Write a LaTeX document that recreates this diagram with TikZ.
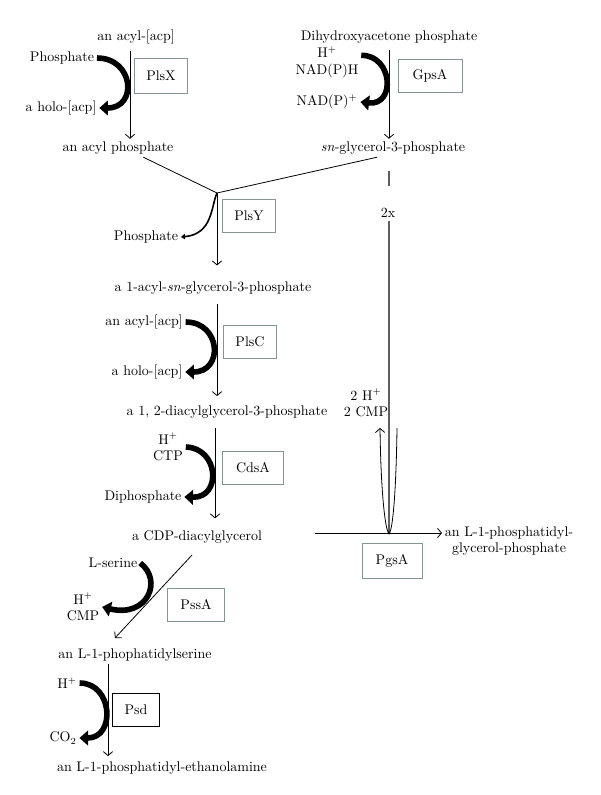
\documentclass[tikz,border=0pt]{standalone}
\usetikzlibrary{arrows.meta}
\definecolor{boxgray}{RGB}{135,148,148}
\definecolor{linegray}{RGB}{95,95,95}
\tikzset{
  met/.style={inner sep=2pt, font=\fontsize{10.5}{12.5}\selectfont},
  enz/.style={draw=boxgray, line width=0.7pt, inner sep=0pt,
    minimum height=25pt, font=\fontsize{10.5}{12.5}\selectfont},
  rxn/.style={line width=0.6pt, -{Straight Barb[length=3pt,width=7pt]}},
  cof/.style={line width=4.2pt, -{Triangle[length=6.5pt,width=11pt]}},
  thin cof/.style={line width=1.2pt, -{Triangle[length=3pt,width=4pt]}},
}
\begin{document}
\begin{tikzpicture}[x=0.75pt, y=-0.75pt]
  \useasboundingbox (0,0) rectangle (600,795);
  % metabolites
  \node[met] (acylacp) at (136,37) {an acyl-[acp]};
  \node[met] (dhap) at (389,37) {Dihydroxyacetone phosphate};
  \node[met] (acylp) at (118,148) {an acyl phosphate};
  \node[met] (glyc3p) at (393,148) {\textit{sn}-glycerol-3-phosphate};
  \node[met] (acylg3p) at (213,288) {a 1-acyl-\textit{sn}-glycerol-3-phosphate};
  \node[met] (dag3p) at (227,412) {a 1, 2-diacylglycerol-3-phosphate};
  \node[met] (cdpdag) at (197,537) {a CDP-diacylglycerol};
  \node[met, align=center, anchor=west] (pgp) at (442,541)
    {an L-1-phosphatidyl-\\glycerol-phosphate};
  \node[met] (ps) at (135,655) {an L-1-phophatidylserine};
  \node[met] (pe) at (162,768) {an L-1-phosphatidyl-ethanolamine};
  % side compounds
  \node[met] (pi1) at (62,58) {Phosphate};
  \node[met] (holo1) at (61,108) {a holo-[acp]};
  \node[met, align=center] (nadph) at (327,62) {H$^+$\\NAD(P)H};
  \node[met] (nadp) at (327,102) {NAD(P)$^+$};
  \node[met] (pi2) at (146,237) {Phosphate};
  \node[met] (acylacp2) at (144,322) {an acyl-[acp]};
  \node[met] (holo2) at (147,372) {a holo-[acp]};
  \node[met, align=center] (ctp) at (168,447) {H$^+$\\CTP};
  \node[met] (ppi) at (143,497) {Diphosphate};
  \node[met, align=center] (cmp2) at (366,403) {2 H$^+$\\2 CMP};
  \node[met] (ser) at (113,563) {L-serine};
  \node[met, align=center] (cmp1) at (83,607) {H$^+$\\CMP};
  \node[met] (hps) at (67,683) {H$^+$};
  \node[met] (co2) at (63,738) {CO$_2$};
  \node[met] (twox) at (388,213) {2x};
  % enzymes
  \node[enz, minimum width=40pt, minimum height=26pt] (plsx) at (161,76) {PlsX};
  \node[enz, minimum width=48pt] (gpsa) at (430,76) {GpsA};
  \node[enz, minimum width=40pt] (plsy) at (249,216) {PlsY};
  \node[enz, minimum width=40pt] (plsc) at (250,342) {PlsC};
  \node[enz, minimum width=46pt] (cdsa) at (253,468) {CdsA};
  \node[enz, minimum width=45pt, minimum height=26pt] (pgsa) at (392,561) {PgsA};
  \node[enz, minimum width=43pt] (pssa) at (196,605) {PssA};
  \node[enz, draw=black, minimum width=35pt] (psd) at (136,710) {Psd};
  % points on the main lines
  \coordinate (colA) at (130,0);
  \coordinate (colB) at (389,0);
  \coordinate (colC) at (215,0);
  \coordinate (colD) at (108,0);
  \coordinate (plsyjoin) at (217,193);
  \coordinate (g1) at (389,171);
  \coordinate (g2) at (389,186);
  \coordinate (g3) at (389,221);
  \coordinate (pgjoin) at (389,533);
  \coordinate (pgstart) at (315,533);
  \coordinate (ustart) at (397,428);
  \coordinate (uend) at (380,428);
  \coordinate (pstop) at (192,555);
  \coordinate (psend) at (115,638);
  % main reactions
  \draw[rxn, shorten <=3pt] (acylacp.south -| colA) -- (acylp.north -| colA);
  \draw[rxn, shorten <=3pt] (dhap.south -| colB) -- (glyc3p.north -| colB);
  \draw[line width=0.6pt] (acylp.-20) -- (plsyjoin) -- (glyc3p.-150);
  \draw[rxn, shorten >=10pt] (plsyjoin) -- (acylg3p.north -| plsyjoin);
  \draw[rxn, shorten <=5pt, shorten >=5pt] (acylg3p.south -| plsyjoin) -- (dag3p.north -| plsyjoin);
  \draw[rxn, shorten <=5pt, shorten >=7pt] (dag3p.south -| colC) -- (cdpdag.north -| colC);
  \draw[rxn] (pstop) -- (psend);
  \draw[rxn, shorten >=2pt] (ps.south -| colD) -- (pe.north -| colD);
  \draw[rxn] (pgstart) -- (pgp.west |- pgstart);
  \draw[line width=0.9pt, linegray] (g1) -- (g2);
  \draw[line width=0.9pt, linegray] (g3) -- (pgjoin);
  \fill (pgjoin) circle (1.6);
  \draw[rxn] (ustart) .. controls (396,500) and (392,533) .. (pgjoin)
    .. controls (386,533) and (381,500) .. (uend);
  % side reactions
  \draw[cof] (pi1.east) .. controls (134,58) and (138,108) .. (holo1.east);
  \draw[cof] ([yshift=5pt]nadph.east) .. controls (393,55) and (396,106) .. (nadp.east);
  \draw[thin cof] (plsyjoin) .. controls (211,206) and (213,234) .. (pi2.east);
  \draw[cof] (acylacp2.east) .. controls (221,322) and (224,372) .. (holo2.east);
  \draw[cof] (ctp.east) .. controls (219,448) and (222,498) .. (ppi.east);
  \draw[cof] (ser.east) .. controls (163,580) and (148,618) .. (cmp1.east);
  \draw[cof] (hps.east) .. controls (113,683) and (116,738) .. (co2.east);
\end{tikzpicture}
\end{document}
